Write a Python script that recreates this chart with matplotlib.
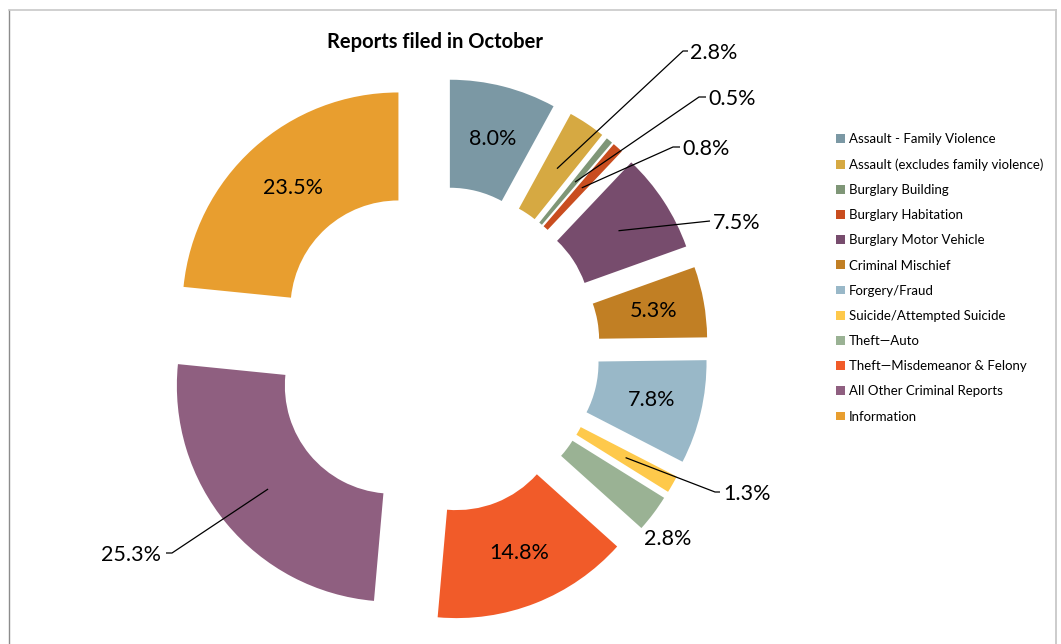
import matplotlib
matplotlib.use("Agg")
import matplotlib.pyplot as plt
import numpy as np

plt.rcParams['font.family'] = ['Lato', 'DejaVu Sans']

categories = [
    "Assault - Family Violence",
    "Assault (excludes family violence)",
    "Burglary Building",
    "Burglary Habitation",
    "Burglary Motor Vehicle",
    "Criminal Mischief",
    "Forgery/Fraud",
    "Suicide/Attempted Suicide",
    "Theft\u2014Auto",
    "Theft\u2014Misdemeanor & Felony",
    "All Other Criminal Reports",
    "Information",
]
percents = [8.0, 2.8, 0.5, 0.8, 7.5, 5.3, 7.8, 1.3, 2.8, 14.8, 25.3, 23.5]
pct_labels = ["8.0%", "2.8%", "0.5%", "0.8%", "7.5%", "5.3%", "7.8%",
              "1.3%", "2.8%", "14.8%", "25.3%", "23.5%"]
colors = ["#7B98A4", "#D6A942", "#7F9677", "#C94D1F", "#774C6D", "#C17F24",
          "#99B8C8", "#FEC94B", "#9AB294", "#F15B29", "#8F5F80", "#E89E2F"]

W, H = 1061, 644
fig = plt.figure(figsize=(W / 100, H / 100), dpi=100)
ax = fig.add_axes([0, 0, 1, 1])

# geometry in pixel units (y axis inverted after drawing)
center = (436, 350)
R_out = 216
ring = 108
expl = 56

wedges, _ = ax.pie(percents, colors=colors, radius=R_out, center=center,
                   explode=[expl] * len(percents), startangle=270,
                   counterclock=True, wedgeprops=dict(width=ring, linewidth=0))
ax.set_xlim(0, W)
ax.set_ylim(H, 0)
ax.set_aspect('equal')
ax.axis('off')

def mid_point(w, frac=0.5):
    th = np.deg2rad(0.5 * (w.theta1 + w.theta2))
    rr = w.r - ring * frac
    return w.center[0] + rr * np.cos(th), w.center[1] + rr * np.sin(th)

label_fs = 15.5
inside = {0, 5, 6, 9, 11}
for i in inside:
    x, y = mid_point(wedges[i])
    ax.text(x + 3, y, pct_labels[i], ha='center', va='center', fontsize=label_fs, color='black')

# outside labels: (elbow, end, text pos, ha)
outside = {
    1: ((683, 51), (688, 51), (690, 53), 'left'),
    2: ((699, 97), (706, 97), (708, 99), 'left'),
    3: ((673, 147), (680, 147), (682, 149), 'left'),
    4: ((710, 221), (710, 221), (713, 223), 'left'),
    7: ((715, 492), (720, 492), (723, 494), 'left'),
    10: ((172, 553), (166, 553), (161, 555), 'right'),
}
for i, (elbow, end, tpos, ha) in outside.items():
    x0, y0 = mid_point(wedges[i])
    ax.plot([x0, elbow[0], end[0]], [y0, elbow[1], end[1]], color='black', lw=0.9,
            solid_capstyle='butt')
    ax.text(tpos[0], tpos[1], pct_labels[i], ha=ha, va='center', fontsize=label_fs)

# Theft-Auto label without leader
ax.text(668, 539, pct_labels[8], ha='center', va='center', fontsize=label_fs)

ax.text(435, 42, "Reports filed in October", ha='center', va='center',
        fontsize=14.5, fontweight='bold')

# chart border
ax.plot([9, 9], [10, H + 5], color='#8C8C8C', lw=1.0)
ax.plot([9, 1056], [10, 10], color='#C8C8C8', lw=1.2)
ax.plot([1056, 1056], [10, H + 5], color='#CCCCCC', lw=1.4)

leg = ax.legend(wedges, categories, loc='upper left',
                bbox_to_anchor=(836 / W, 1 - 133 / H), bbox_transform=fig.transFigure,
                frameon=False, fontsize=9.5, handlelength=0.65, handleheight=0.65,
                handletextpad=0.3, labelspacing=1.0, borderpad=0, borderaxespad=0)

fig.savefig("out.png", dpi=100)
